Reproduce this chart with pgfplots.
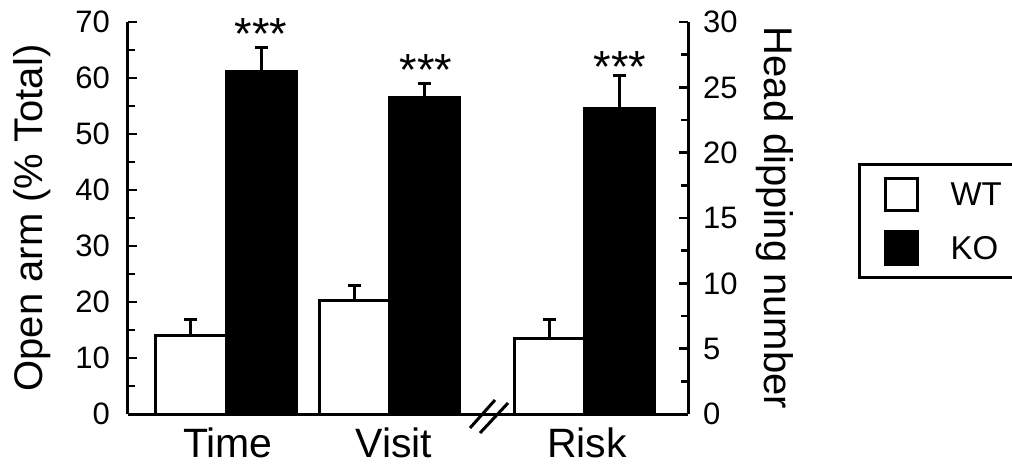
\documentclass[border=0pt]{standalone}
\usepackage{fontspec}
\setmainfont{Liberation Sans}
\usepackage{pgfplots}
\pgfplotsset{compat=1.18}
\begin{document}
\begin{tikzpicture}
\pgfplotsset{
  common/.style={
    at={(0pt,0pt)}, anchor=south west,
    width=560pt, height=392pt, scale only axis,
    xmin=0, xmax=560,
    clip=false,
    tick align=inside,
    major tick length=9pt, minor tick length=7pt,
    tick style={black, line width=2.5pt},
    /pgf/number format/assume math mode=true,
    yticklabel style={font=\fontsize{31}{36}\selectfont, inner sep=0pt},
    axis line style={line width=3pt, -},
    ylabel style={font=\fontsize{40}{46}\selectfont},
  },
  errs/.style={error bars/.cd, y dir=plus, y explicit,
    error bar style={line width=3pt, black},
    error mark options={rotate=90, mark size=6.5pt, line width=3pt, black}},
  stars/.style={draw=none, forget plot, nodes near coords={***},
    every node near coord/.append style={anchor=base, yshift=#1, inner sep=0pt,
      font=\fontsize{45}{50}\selectfont, text=black}},
}
\begin{axis}[common,
  axis x line*=bottom, axis y line*=left,
  ymin=0, ymax=70, ytick={0,10,...,70}, minor y tick num=1,
  xtick={100,266,459}, xticklabels={Time,Visit,Risk},
  xticklabel style={font=\fontsize{41}{46}\selectfont, anchor=north, inner sep=0pt, yshift=-14pt},
  major x tick style={draw=none},
  yticklabel style={anchor=east, xshift=-18pt},
  ylabel={Open arm (\% Total)},
  ylabel style={at={(rel axis cs:-0.1714,0.5)}, anchor=center},
  legend style={at={(rel axis cs:1.3036,0.6403)}, anchor=north west,
    draw=black, line width=3pt, font=\fontsize{33}{38}\selectfont,
    inner xsep=12pt, inner ysep=12pt, row sep=19pt,
    nodes={inner sep=0pt},
    /tikz/every odd column/.append style={column sep=32pt}},
  legend cell align=left,
  legend image code/.code={\path (0pt,0pt); \draw[#1, line width=3pt] (12pt,-15pt) rectangle (44pt,17pt);},
]
\addplot[ybar, bar width=70, bar shift=0pt, fill=white, draw=black, line width=3pt, errs]
  coordinates {(63,14.1) +- (0,2.7) (226,20.2) +- (0,2.8)};
\addlegendentry{WT}
\addplot[ybar, bar width=70, bar shift=0pt, fill=black, draw=black, line width=3pt, errs]
  coordinates {(133,61.1) +- (0,4.3) (296,56.6) +- (0,2.5)};
\addlegendentry{KO}
\addplot[stars=-2pt] coordinates {(133,65.4) (298,59.1)};
\end{axis}
\begin{axis}[common,
  axis y line*=right, axis x line=none,
  ymin=0, ymax=30, ytick={0,5,...,30}, minor y tick num=1,
  xtick=\empty,
  yticklabel style={anchor=west, xshift=15pt},
  ylabel={Head dipping number},
  ylabel style={at={(rel axis cs:1.1554,0.5)}, anchor=center, rotate=180},
]
\addplot[ybar, bar width=70, bar shift=0pt, fill=white, draw=black, line width=3pt, errs]
  coordinates {(421,5.8) +- (0,1.4)};
\addplot[ybar, bar width=70, bar shift=0pt, fill=black, draw=black, line width=3pt, errs]
  coordinates {(491,23.4) +- (0,2.5)};
\addplot[stars=-7pt] coordinates {(492,25.9)};
\end{axis}
\draw[line width=3pt] (342pt,-14pt) -- (367pt,14pt) (352pt,-19pt) -- (380pt,11pt);
\pgfresetboundingbox
\path[use as bounding box] (-128pt,-52pt) rectangle (884pt,414pt);
\end{tikzpicture}
\end{document}
